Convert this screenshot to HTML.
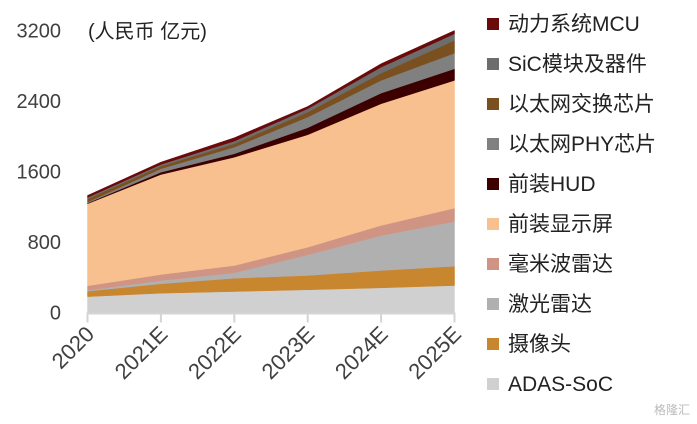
<!DOCTYPE html>
<html><head><meta charset="utf-8"><style>
body{margin:0;background:#fff;}
svg{display:block;font-family:"Liberation Sans","Noto Sans CJK SC",sans-serif;}
</style></head><body>
<svg id="chart" width="697" height="424" viewBox="0 0 697 424">
<g id="areas"></g>
<g id="axes"></g>
<g id="legend"></g>
<text x="88" y="38" font-size="20" fill="#222">(人民币 亿元)</text>
<text x="690" y="414" font-size="12" fill="#bbb" text-anchor="end">格隆汇</text>
</svg>
<script>
const categories = ["2020","2021E","2022E","2023E","2024E","2025E"];
const yTicks = [0,800,1600,2400,3200];
const seriesNames = ["ADAS-SoC","摄像头","激光雷达","毫米波雷达","前装显示屏","前装HUD","以太网PHY芯片","以太网交换芯片","SiC模块及器件","动力系统MCU"];
const adas    = [180,219,238,258,280,306];
const camera  = [62,107,151,162,197,219];
const lidar   = [10,37,62,235,397,508];
const radar   = [51,68,82,86,114,151];
const display = [931,1135,1229,1276,1381,1450];
const hud     = [8,26,39,80,120,132];
const phy     = [10,39,75,120,145,177];
const ethSwitch = [38,30,39,57,82,145];
const sic     = [15,19,30,38,68,75];
const mcu     = [23,26,38,26,39,37];
const seriesData = [adas,camera,lidar,radar,display,hud,phy,ethSwitch,sic,mcu];
const colors = ["#d0d0d0","#c8862f","#b0b0b0","#cf9484","#f8c08f","#3d0000","#808080","#7b5020","#6d6d6d","#6b0a0a"];
const slugs = ["adas-soc","camera","lidar","mmwave-radar","display","hud","ethernet-phy","ethernet-switch","sic","mcu"];

const NS="http://www.w3.org/2000/svg";
const x0=87.5,x1=454.5,yBase=312.5,yTop=30.5,yMax=3200;
const xS=i=>x0+(x1-x0)*i/(categories.length-1);
const yS=v=>yBase-(yBase-yTop)*v/yMax;
function mk(t,a,p){const e=document.createElementNS(NS,t);for(const k in a)e.setAttribute(k,a[k]);p.appendChild(e);return e;}

const areas=document.getElementById('areas');
let cum=categories.map(()=>0);
seriesData.forEach((s,si)=>{
  const lower=cum.slice();
  const upper=cum.map((c,i)=>c+s[i]);
  let d="";
  upper.forEach((v,i)=>{d+=(i?"L":"M")+xS(i)+","+yS(v);});
  for(let i=lower.length-1;i>=0;i--) d+="L"+xS(i)+","+yS(lower[i]);
  d+="Z";
  const p=mk('path',{d:d,fill:colors[si],stroke:colors[si],'stroke-width':0.5},areas);
  
  
  cum=upper;
});

const axes=document.getElementById('axes');
const base=mk('line',{x1:x0,x2:x1,y1:yBase+1,y2:yBase+1,stroke:"#d4d4d4",'stroke-width':2},axes);


categories.forEach((c,i)=>{
  const x=xS(i);
  const t=mk('line',{x1:x,x2:x,y1:yBase,y2:yBase+10,stroke:"#d4d4d4",'stroke-width':2},axes);
  
  
  const lb=mk('text',{x:0,y:0,'font-size':22,fill:"#404040",'text-anchor':"end",transform:`translate(${x+8},${yBase+23}) rotate(-45)`},axes);
  lb.textContent=c;
  
  
});
yTicks.forEach(v=>{
  const lb=mk('text',{x:61,y:yS(v)+7,'font-size':20,fill:"#404040",'text-anchor':"end"},axes);
  lb.textContent=v;
  
  
});

const legend=document.getElementById('legend');
for(let k=0;k<seriesNames.length;k++){
  const si=seriesNames.length-1-k;
  const y=24+k*40;
  const g=mk('g',{},legend);
  
  
  const r=mk('rect',{x:487,y:y-6,width:12,height:12,fill:colors[si]},g);
  
  
  const t=mk('text',{x:508,y:y+7,'font-size':21,fill:"#222"},g);
  t.textContent=seriesNames[si];
  
  
}
</script>
</body></html>
